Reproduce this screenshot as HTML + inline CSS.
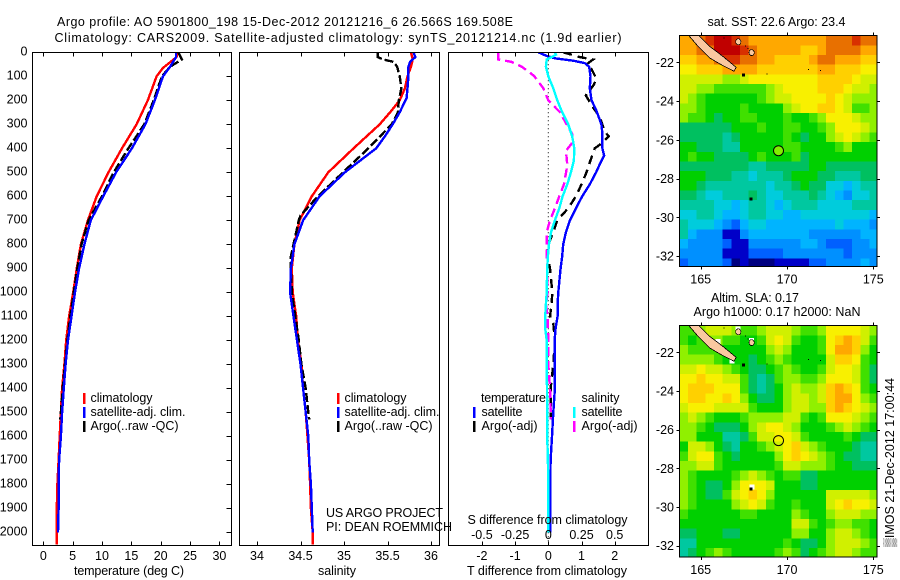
<!DOCTYPE html>
<html>
<head>
<meta charset="utf-8">
<title>Argo profile 5901800_198</title>
<style>
html,body{margin:0;padding:0;background:#fff;width:900px;height:580px;overflow:hidden}
svg{display:block}
text{font-family:"Liberation Sans",sans-serif;font-size:12.5px;fill:#000}
</style>
</head>
<body>
<svg id="fig" xmlns="http://www.w3.org/2000/svg" width="900" height="580" viewBox="0 0 900 580">
<defs>
<clipPath id="clip-t"><rect x="32" y="52" width="200" height="494"/></clipPath>
<clipPath id="clip-s"><rect x="239" y="52" width="201" height="494"/></clipPath>
<clipPath id="clip-d"><rect x="448" y="52" width="201" height="494"/></clipPath>
<clipPath id="clip-m1"><rect x="679.5" y="35.5" width="197.5" height="231"/></clipPath>
<clipPath id="clip-m2"><rect x="679.5" y="325.5" width="197.5" height="231.5"/></clipPath>
</defs>
<rect width="900" height="580" fill="#fff"/>
<text x="57" y="26" textLength="456" lengthAdjust="spacing">Argo profile: AO 5901800_198 15-Dec-2012 20121216_6 26.566S 169.508E</text>
<text x="54.5" y="42" textLength="567" lengthAdjust="spacing">Climatology: CARS2009. Satellite-adjusted climatology: synTS_20121214.nc (1.9d earlier)</text>

<g id="maps"></g>
<g id="series"></g>
<g id="axes" shape-rendering="crispEdges"></g>

<text x="74" y="575" textLength="110" lengthAdjust="spacing">temperature (deg C)</text>
<text x="318" y="575" textLength="38" lengthAdjust="spacing">salinity</text>
<text x="467" y="575" textLength="160" lengthAdjust="spacing">T difference from climatology</text>
<text x="467.5" y="524" textLength="160" lengthAdjust="spacing">S difference from climatology</text>

<g>
<rect x="83" y="393" width="2.5" height="11" fill="#f00"/>
<rect x="83" y="407" width="2.5" height="11" fill="#00f"/>
<rect x="83" y="421" width="2.5" height="11" fill="#000"/>
<text x="90.5" y="402" textLength="62" lengthAdjust="spacing">climatology</text>
<text x="90.5" y="416" textLength="95" lengthAdjust="spacing">satellite-adj. clim.</text>
<text x="90.5" y="430" textLength="88" lengthAdjust="spacing">Argo(..raw -QC)</text>
</g>
<g>
<rect x="337" y="393" width="2.5" height="11" fill="#f00"/>
<rect x="337" y="407" width="2.5" height="11" fill="#00f"/>
<rect x="337" y="421" width="2.5" height="11" fill="#000"/>
<text x="344.5" y="402" textLength="62" lengthAdjust="spacing">climatology</text>
<text x="344.5" y="416" textLength="95" lengthAdjust="spacing">satellite-adj. clim.</text>
<text x="344.5" y="430" textLength="88" lengthAdjust="spacing">Argo(..raw -QC)</text>
</g>
<g>
<text x="481" y="402" textLength="65" lengthAdjust="spacing">temperature</text>
<text x="581.5" y="402" textLength="38" lengthAdjust="spacing">salinity</text>
<rect x="473" y="407" width="2.5" height="11" fill="#00f"/>
<rect x="473" y="421" width="2.5" height="11" fill="#000"/>
<rect x="573" y="407" width="2.5" height="11" fill="#0ff"/>
<rect x="573" y="421" width="2.5" height="11" fill="#f0f"/>
<text x="481.5" y="416" textLength="41" lengthAdjust="spacing">satellite</text>
<text x="481.5" y="430" textLength="56" lengthAdjust="spacing">Argo(-adj)</text>
<text x="581.5" y="416" textLength="41" lengthAdjust="spacing">satellite</text>
<text x="581.5" y="430" textLength="56" lengthAdjust="spacing">Argo(-adj)</text>
</g>
<text x="326" y="517" textLength="117" lengthAdjust="spacing">US ARGO PROJECT</text>
<text x="326" y="531" textLength="126" lengthAdjust="spacing">PI: DEAN ROEMMICH</text>

<text x="707.5" y="26" textLength="138" lengthAdjust="spacing">sat. SST: 22.6 Argo: 23.4</text>
<text x="711" y="302" textLength="88" lengthAdjust="spacing">Altim. SLA: 0.17</text>
<text x="693.5" y="316" textLength="167" lengthAdjust="spacing">Argo h1000: 0.17 h2000: NaN</text>
<text transform="translate(894,547) rotate(-90)" textLength="169" lengthAdjust="spacing">▒IMOS 21-Dec-2012 17:00:44</text>

<script>
// ---------- depth profile data (depth in m, temperature in deg C, salinity in psu) ----------
var climDepth = [0,20,65,100,200,300,400,500,600,700,800,900,1000,1100,1200,1300,1400,1500,1600,1700,1800,1900,2000,2050];
var climTemp = [22.9,22.7,20.4,19.3,17.8,15.9,13.4,11.1,9.1,7.6,6.4,5.7,5.1,4.4,3.9,3.6,3.2,3.0,2.8,2.6,2.4,2.3,2.3,2.3];
var climSalDepth = [0,30,60,100,150,200,250,300,400,500,600,700,800,900,1000,1100,1200,1300,1400,1500,1600,1700,1800,1900,2000,2050];
var climSal = [35.77,35.79,35.77,35.73,35.70,35.64,35.53,35.41,35.11,34.82,34.63,34.49,34.43,34.40,34.41,34.45,34.47,34.51,34.53,34.56,34.58,34.60,34.61,34.62,34.64,34.64];

var satDepth = [0,20,60,100,200,300,400,500,600,700,800,900,1000,1100,1200,1300,1400,1500,1600,1700,1800,1900,2000];
var satTemp = [22.6,22.6,21.6,20.4,19.0,17.4,15.1,12.4,10.2,8.1,7.0,6.1,5.4,4.8,4.2,3.8,3.5,3.2,3.0,2.7,2.6,2.6,2.5];
var satSalDepth = [0,20,40,60,100,150,190,250,300,350,400,500,600,700,800,900,1000,1100,1200,1300,1400,1500,1600,1700,1800,1900,2000];
var satSal = [35.80,35.82,35.76,35.74,35.74,35.73,35.72,35.64,35.56,35.47,35.37,35.01,34.72,34.53,34.43,34.39,34.38,34.42,34.46,34.50,34.53,34.56,34.59,34.60,34.62,34.63,34.64];

var argoTempDepth = [0,30,60,100,200,300,400,500,600,700,800,900,1000,1100,1200,1300,1400,1500,1530];
var argoTemp = [23.0,23.6,21.6,20.2,18.8,17.2,14.5,12.0,10.0,7.7,6.5,5.8,5.2,4.6,4.1,3.7,3.3,3.0,2.9];
var argoSalDepth = [0,20,30,40,60,100,150,200,250,300,400,500,600,680,700,800,850,900,1000,1100,1200,1300,1400,1500,1530];
var argoSal = [35.39,35.39,35.45,35.57,35.61,35.64,35.66,35.63,35.62,35.55,35.28,34.99,34.70,34.50,34.48,34.42,34.39,34.39,34.40,34.44,34.48,34.51,34.56,34.59,34.60];

// ---------- difference panel data ----------
var dTSatDepth = [0,15,25,35,45,60,100,150,200,240,300,340,400,430,470,500,550,600,650,700,750,800,850,900,1000,1050,1100,1150,1200,1300,1400,1500,1600,1700,1800,1900,2000];
var dTSat = [-0.30,-0.05,0.2,0.75,1.1,1.23,1.27,1.25,1.3,1.44,1.6,1.63,1.63,1.68,1.54,1.44,1.25,1.02,0.83,0.65,0.53,0.45,0.42,0.37,0.30,0.28,0.28,0.22,0.19,0.19,0.20,0.15,0.11,0.07,0.06,0.06,0.06];
var dTArgoDepth = [0,20,30,50,70,110,135,180,230,270,330,350,380,400,450,500,550,600,650,700,750,800,850,900,1000,1050,1100,1130,1200,1300,1400,1500,1530];
var dTArgo = [0.45,0.95,1.35,1.15,1.3,1.45,1.37,1.13,1.35,1.55,1.7,1.82,1.6,1.4,1.27,1.15,1.0,0.83,0.6,0.27,0.15,0,-0.03,0.05,0.12,0.1,0.05,0.15,0.2,0.15,0.07,0.07,0.07];
var dSSatDepth = [0,10,20,30,60,100,150,200,250,300,350,400,450,500,550,600,650,700,750,800,850,900,1000,1050,1100,1150,1200,1300,1400,1500,1600,1700,1800,2000];
var dSSat = [0.05,0.058,0.025,-0.012,-0.018,0,0.038,0.068,0.105,0.15,0.18,0.196,0.193,0.17,0.143,0.108,0.083,0.05,0.02,0.005,-0.003,-0.008,-0.012,-0.018,-0.023,-0.023,-0.012,-0.012,-0.01,-0.008,-0.008,-0.003,0,0];
var dSArgoDepth = [0,30,40,60,80,100,150,200,250,300,340,380,410,470,550,600,650,700,750,850,900,1000,1050,1100,1200,1300,1400,1500,1530];
var dSArgo = [-0.376,-0.376,-0.276,-0.2,-0.15,-0.105,-0.038,0,0.088,0.138,0.18,0.176,0.133,0.143,0.118,0.083,0.05,0.0125,-0.012,-0.012,-0.008,-0.005,-0.018,-0.005,0,0,0.0125,0.018,0.018];

// ---------- tick labels ----------
var depthTicks = [0,100,200,300,400,500,600,700,800,900,1000,1100,1200,1300,1400,1500,1600,1700,1800,1900,2000];
var tempTicks = [0,5,10,15,20,25,30];
var salTicks = [34,34.5,35,35.5,36];
var dTTicks = [-2,-1,0,1,2];
var dSTicks = [-0.5,-0.25,0,0.25,0.5];
var lonTicks = [165,170,175];
var latTicks = [-22,-24,-26,-28,-30,-32];

// ---------- map data: colour level per half-degree cell, north to south, west to east ----------
var levelColors = ['#000080','#0000c8','#0060ff','#0090ff','#00b4ff','#00ccdc','#00c8a0','#00c060','#00d000','#40e000','#90f000','#d0f000','#f8f000','#ffd000','#ffa800','#e87000','#d83000','#c00000','#900000'];
var sstLevels = [
[14,14,15,16,17,17,16,15,14,14,14,14,14,14,14,14,14,15,15,15,16,15,15],
[14,14,15,15,17,17,17,16,15,14,14,14,14,14,13,13,14,15,15,15,15,14,14],
[13,13,14,14,15,16,16,15,15,14,14,13,13,13,13,14,15,15,14,14,14,13,13],
[12,12,13,13,13,14,14,14,14,13,13,13,13,13,13,13,14,14,13,13,13,12,12],
[11,11,11,11,11,10,10,11,12,12,12,12,12,12,12,12,13,13,13,13,12,11,11],
[11,11,10,10,9,9,9,9,9,9,10,11,12,12,12,12,13,13,13,12,11,11,10],
[11,10,9,8,8,8,8,8,8,9,10,11,11,12,12,12,12,13,12,11,10,10,10],
[10,10,9,8,8,8,8,9,8,8,8,8,10,11,12,12,13,13,12,11,9,9,10],
[10,9,9,8,7,8,8,9,9,8,8,8,9,8,8,9,10,12,12,12,11,10,10],
[7,7,7,7,7,7,8,8,8,9,8,8,9,9,8,8,9,10,12,12,12,11,10],
[7,7,7,7,7,6,7,8,8,8,8,8,9,8,7,8,8,10,11,12,11,10,9],
[8,8,7,7,7,6,6,8,8,8,8,8,9,9,8,8,8,8,9,10,8,8,8],
[8,9,8,8,7,7,7,7,8,9,8,8,8,9,7,8,8,8,8,8,8,8,8],
[7,7,7,7,7,7,7,7,6,6,7,7,7,7,7,8,8,7,7,7,7,7,7],
[8,8,8,7,7,7,6,6,5,6,6,6,7,8,8,8,7,7,6,6,6,7,7],
[8,8,7,6,6,6,6,6,6,6,5,6,6,7,8,7,7,5,5,4,5,6,6],
[7,7,6,5,5,6,6,6,7,6,5,5,6,6,6,7,6,5,4,3,5,5,6],
[6,6,6,6,5,5,4,5,6,6,5,4,5,6,6,6,5,5,5,5,6,6,6],
[5,5,6,6,5,4,4,5,6,6,5,5,4,4,5,5,5,5,5,5,5,5,4],
[6,5,5,5,4,3,2,4,5,5,4,4,4,4,4,4,4,4,5,4,4,4,3],
[6,4,3,3,3,1,1,3,4,4,4,4,4,4,4,3,3,3,3,3,3,4,4],
[4,3,3,3,3,2,1,1,3,3,3,3,3,3,4,4,3,2,2,2,3,3,4],
[3,3,3,3,3,1,1,1,2,2,2,2,3,3,3,3,3,3,3,2,3,3,3],
[2,3,3,3,3,2,0,1,0,0,0,1,1,1,1,2,2,3,3,3,3,4,3]
];
var slaLevels = [
[9,9,10,11,11,11,10,9,9,10,11,11,11,10,9,9,10,12,12,12,12,11,10],
[9,8,9,10,10,9,9,8,8,9,11,12,11,9,8,8,9,12,13,14,13,11,9],
[10,9,9,9,9,8,8,8,8,8,10,11,10,8,8,8,9,12,14,14,13,10,8],
[10,10,10,10,9,8,8,8,7,8,9,10,9,8,8,8,8,11,13,13,12,9,8],
[11,11,12,11,11,10,9,8,7,7,8,9,10,9,8,8,9,11,12,12,11,9,7],
[12,12,13,12,12,11,11,9,7,6,7,9,10,10,9,9,10,12,12,12,11,9,7],
[12,13,13,13,12,12,12,9,7,6,7,8,10,11,10,10,11,13,14,13,12,9,8],
[12,13,13,12,12,13,12,10,8,7,7,8,10,11,11,10,11,13,14,14,12,10,9],
[11,12,12,12,11,11,11,11,9,8,8,8,10,11,11,10,10,13,14,13,12,11,10],
[10,11,10,9,8,8,8,9,10,10,10,10,11,11,9,8,9,12,12,12,11,10,9],
[10,10,9,8,7,7,7,8,10,11,12,12,11,10,8,8,8,9,10,11,10,9,8],
[10,10,8,8,8,6,6,7,9,11,11,12,12,11,9,8,8,8,8,9,8,7,7],
[8,11,11,10,8,7,6,8,8,9,10,11,12,13,11,10,9,8,8,8,7,6,6],
[9,11,12,12,9,8,7,8,8,8,8,10,12,13,12,11,10,9,8,7,7,6,6],
[10,10,11,11,9,8,8,8,8,8,8,9,11,11,10,10,10,9,8,8,7,7,7],
[10,9,8,8,8,8,9,10,11,10,9,8,9,9,7,7,8,8,8,8,8,8,8],
[10,9,8,7,7,8,10,12,12,12,11,8,8,8,7,7,8,8,8,8,8,8,8],
[10,9,8,7,7,9,11,12,13,12,10,8,8,8,8,8,8,11,11,11,11,11,10],
[10,9,8,8,8,8,10,11,12,11,9,8,8,9,8,8,8,11,12,13,12,12,11],
[9,8,8,8,8,8,8,9,9,8,8,8,8,10,9,8,8,10,11,11,11,10,10],
[8,8,8,8,8,8,8,8,8,8,8,8,8,11,11,9,8,9,10,10,9,9,8],
[7,7,8,8,8,7,7,8,8,8,8,8,8,10,10,8,8,10,11,11,10,9,8],
[6,6,8,8,8,8,8,8,8,8,8,8,9,8,7,7,8,10,11,11,11,10,9],
[6,7,8,9,10,9,8,8,8,8,8,9,10,9,7,8,9,10,11,11,10,9,9]
];
var landLon = [164.86,165.54,166.31,167.05,166.93,166.22,165.54,164.86,164.28];
var landLat = [-20.59,-21.19,-21.71,-22.26,-22.46,-22.14,-21.79,-21.19,-20.59];
var islandLon = [167.18,167.95];
var islandLat = [-20.94,-21.5];
var reefLon = [167.47,168.85,171.25,171.95,167.91,167.6,167.75,166.35];
var reefLat = [-22.66,-22.6,-22.36,-22.42,-29.07,-21.15,-21.3,-20.75];
var floatLon = 169.508;
var floatLat = -26.566;

// ---------- axis functions ----------
var NS = 'http://www.w3.org/2000/svg';
function yDepth(d){ return 52.3 + d * 0.24; }
function xTemp(t){ return 43.3 + t * 5.87; }
function xSal(s){ return 257 + (s - 34) * 87; }
function xDT(v){ return 548.3 + v * 33.2; }
function xDS(v){ return 548.3 + v * 132.8; }
function xLon(lon){ return 700.7 + (lon - 165) * 17.26; }
function yLat1(lat){ return 62.3 + (-22 - lat) * 19.37; }
function yLat2(lat){ return 352.3 + (-22 - lat) * 19.34; }

var axesG = document.getElementById('axes');
var seriesG = document.getElementById('series');
var mapsG = document.getElementById('maps');

function svgEl(tag, parent){
  var el = document.createElementNS(NS, tag);
  parent.appendChild(el);
  return el;
}
function drawProfile(name, parent, depths, values, xFn, color, width, dash, clip){
  var el = svgEl('polyline', parent);
  
  
  var pts = [];
  for (var i = 0; i < depths.length; i++) pts.push(xFn(values[i]).toFixed(1) + ',' + yDepth(depths[i]).toFixed(1));
  el.setAttribute('points', pts.join(' '));
  el.setAttribute('fill', 'none');
  el.setAttribute('stroke', color);
  el.setAttribute('stroke-width', width);
  el.setAttribute('shape-rendering', 'crispEdges');
  el.setAttribute('clip-path', 'url(#' + clip + ')');
  if (dash) el.setAttribute('stroke-dasharray', dash);
}
function drawLine(name, x1, y1, x2, y2){
  var el = svgEl('line', axesG);
  
  
  el.setAttribute('x1', x1);
  el.setAttribute('y1', y1);
  el.setAttribute('x2', x2);
  el.setAttribute('y2', y2);
  el.setAttribute('stroke', '#000');
  el.setAttribute('stroke-width', 1);
}
function drawLabel(name, label, x, y, anchor){
  var el = svgEl('text', axesG);
  
  
  el.setAttribute('x', x);
  el.setAttribute('y', y);
  el.setAttribute('text-anchor', anchor);
  el.textContent = label;
}
function drawFrame(name, x, y, w, h){
  var el = svgEl('rect', axesG);
  
  
  el.setAttribute('x', x);
  el.setAttribute('y', y);
  el.setAttribute('width', w);
  el.setAttribute('height', h);
  el.setAttribute('fill', 'none');
  el.setAttribute('stroke', '#000');
  el.setAttribute('stroke-width', 1);
}
function drawXAxis(prefix, ticks, xFn, top, bottom, labelY){
  ticks.forEach(function(t){
    var x = Math.round(xFn(t)) + 0.5;
    drawLine(prefix + '-tick-top', x, top, x, top + 4);
    drawLine(prefix + '-tick-bottom', x, bottom - 4, x, bottom);
    drawLabel(prefix + '-tick-label', String(t), xFn(t), labelY, 'middle');
  });
}
function fmtS(v){ return v === 0 ? '0' : (v < 0 ? '-' : '') + String(Math.abs(v)); }

// ---------- maps ----------
function drawMap(prefix, grid, yFn, clip, isSla){
  var g = svgEl('g', mapsG);
  
  
  g.setAttribute('clip-path', 'url(#' + clip + ')');
  g.setAttribute('shape-rendering', 'crispEdges');
  for (var r = 0; r < grid.length; r++){
    for (var c = 0; c < grid[r].length; c++){
      var lonW = 163.77 + c * 0.5;
      var latN = -20.62 - r * 0.5;
      var x0 = xLon(lonW), x1 = xLon(lonW + 0.5);
      var y0 = yFn(latN), y1 = yFn(latN - 0.5);
      var cell = svgEl('rect', g);
      
      
      cell.setAttribute('x', x0.toFixed(2));
      cell.setAttribute('y', y0.toFixed(2));
      cell.setAttribute('width', (x1 - x0 + 0.5).toFixed(2));
      cell.setAttribute('height', (y1 - y0 + 0.5).toFixed(2));
      cell.setAttribute('fill', levelColors[grid[r][c]]);
    }
  }
  if (isSla){
    [[166.8,-22.45],[167.96,-28.96],[167.95,-21.4],[166.0,-21.45],[167.15,-20.8]].forEach(function(p){
      var w = svgEl('rect', g);
      
      
      w.setAttribute('x', xLon(p[0]) - 2.5);
      w.setAttribute('y', yFn(p[1]) - 2.5);
      w.setAttribute('width', 5);
      w.setAttribute('height', 5);
      w.setAttribute('fill', '#fff');
    });
  }
  var land = svgEl('polygon', g);
  
  
  var lp = [];
  for (var i = 0; i < landLon.length; i++) lp.push(xLon(landLon[i]).toFixed(1) + ',' + yFn(landLat[i]).toFixed(1));
  land.setAttribute('points', lp.join(' '));
  land.setAttribute('fill', '#fac8a0');
  land.setAttribute('stroke', '#000');
  land.setAttribute('stroke-width', 0.8);
  for (var k = 0; k < islandLon.length; k++){
    var isl = svgEl('ellipse', g);
    
    
    isl.setAttribute('cx', xLon(islandLon[k]));
    isl.setAttribute('cy', yFn(islandLat[k]));
    isl.setAttribute('rx', 2.6);
    isl.setAttribute('ry', 3);
    isl.setAttribute('fill', '#fac8a0');
    isl.setAttribute('stroke', '#000');
    isl.setAttribute('stroke-width', 0.7);
  }
  for (var m = 0; m < reefLon.length; m++){
    var big = (m === 0 || m === 4);
    var reef = svgEl('rect', g);
    
    
    reef.setAttribute('x', xLon(reefLon[m]) - (big ? 1.5 : 0.5));
    reef.setAttribute('y', yFn(reefLat[m]) - (big ? 1.5 : 0.5));
    reef.setAttribute('width', big ? 3 : 1);
    reef.setAttribute('height', big ? 3 : 1);
    reef.setAttribute('fill', '#000');
  }
}
drawMap('sst', sstLevels, yLat1, 'clip-m1', false);
drawMap('sla', slaLevels, yLat2, 'clip-m2', true);

function drawFloat(name, yFn, fill){
  var el = svgEl('circle', mapsG);
  
  
  el.setAttribute('cx', xLon(floatLon));
  el.setAttribute('cy', yFn(floatLat));
  el.setAttribute('r', 5);
  el.setAttribute('fill', fill);
  el.setAttribute('stroke', '#000');
  el.setAttribute('stroke-width', 1);
}
drawFloat('sst-float-marker', yLat1, '#80f000');
drawFloat('sla-float-marker', yLat2, 'none');

// ---------- series ----------
drawProfile('temperature-climatology-line', seriesG, climDepth, climTemp, xTemp, '#f00', 2.4, null, 'clip-t');
drawProfile('temperature-argo-line', seriesG, argoTempDepth, argoTemp, xTemp, '#000', 2.4, '9 3', 'clip-t');
drawProfile('temperature-satellite-line', seriesG, satDepth, satTemp, xTemp, '#00f', 2.4, null, 'clip-t');

drawProfile('salinity-climatology-line', seriesG, climSalDepth, climSal, xSal, '#f00', 2.4, null, 'clip-s');
drawProfile('salinity-argo-line', seriesG, argoSalDepth, argoSal, xSal, '#000', 2.4, '9 3', 'clip-s');
drawProfile('salinity-satellite-line', seriesG, satSalDepth, satSal, xSal, '#00f', 2.4, null, 'clip-s');

var zeroLine = svgEl('line', seriesG);


zeroLine.setAttribute('x1', xDT(0));
zeroLine.setAttribute('x2', xDT(0));
zeroLine.setAttribute('y1', yDepth(0));
zeroLine.setAttribute('y2', yDepth(2050));
zeroLine.setAttribute('stroke', '#000');
zeroLine.setAttribute('stroke-dasharray', '1 3');
zeroLine.setAttribute('stroke-width', 1);

drawProfile('diff-temperature-argo-line', seriesG, dTArgoDepth, dTArgo, xDT, '#000', 2.4, '9 6', 'clip-d');
drawProfile('diff-salinity-argo-line', seriesG, dSArgoDepth, dSArgo, xDS, '#f0f', 2.4, '9 5', 'clip-d');
drawProfile('diff-temperature-satellite-line', seriesG, dTSatDepth, dTSat, xDT, '#00f', 2.4, null, 'clip-d');
drawProfile('diff-salinity-satellite-line', seriesG, dSSatDepth, dSSat, xDS, '#0ff', 2.4, null, 'clip-d');

// ---------- axes ----------
drawFrame('temperature-panel-frame', 32.5, 52.5, 199, 493);
drawFrame('salinity-panel-frame', 239.5, 52.5, 200, 493);
drawFrame('difference-panel-frame', 448.5, 52.5, 200, 493);
depthTicks.forEach(function(d){
  var y = Math.round(yDepth(d)) + 0.5;
  drawLine('depth-tick', 226.5, y, 231.5, y);
  drawLabel('depth-tick-label', String(d), 27.5, yDepth(d) + 3, 'end');
});
drawXAxis('temperature-axis', tempTicks, xTemp, 52.5, 545.5, 560);
drawXAxis('salinity-axis', salTicks, xSal, 52.5, 545.5, 560);
drawXAxis('t-difference-axis', dTTicks, xDT, 52.5, 545.5, 560);
dSTicks.forEach(function(v){
  drawLabel('s-difference-tick-label', fmtS(v), xDS(v), 539, 'middle');
});

function drawMapAxes(prefix, yFn, top, bottom){
  drawFrame(prefix + '-map-frame', 679.5, top, 197.5, bottom - top);
  lonTicks.forEach(function(lon){
    var x = Math.round(xLon(lon)) + 0.5;
    drawLine(prefix + '-lon-tick-top', x, top - 3, x, top);
    drawLine(prefix + '-lon-tick-bottom', x, bottom, x, bottom + 3);
    drawLabel(prefix + '-lon-tick-label', String(lon), xLon(lon), bottom + 17, 'middle');
  });
  latTicks.forEach(function(lat){
    var y = Math.round(yFn(lat)) + 0.5;
    drawLine(prefix + '-lat-tick-left', 676.5, y, 679.5, y);
    drawLine(prefix + '-lat-tick-right', 877, y, 880, y);
    drawLabel(prefix + '-lat-tick-label', String(lat), 674, yFn(lat) + 4.5, 'end');
  });
}
drawMapAxes('sst', yLat1, 35.5, 266.5);
drawMapAxes('sla', yLat2, 325.5, 557);
</script>
</svg>
</body>
</html>
